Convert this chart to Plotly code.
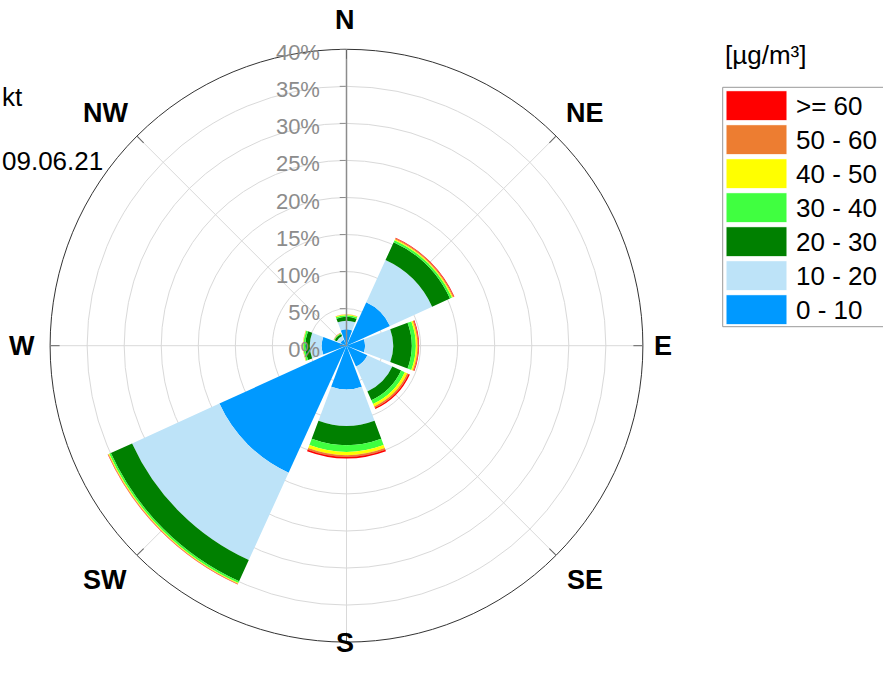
import plotly.graph_objects as go

# ---------------- data ----------------
directions = ["N", "NE", "E", "SE", "S", "SW", "W", "NW"]
dir_angles = [0, 45, 90, 135, 180, 225, 270, 315]

# frequency share (%) per concentration class and direction (stacked from centre outwards)
c_0_10 = [2.2, 6.45, 2.5, 3.1, 5.9, 18.85, 3.35, 0.9]
c_10_20 = [1.17, 6.25, 3.8, 3.7, 4.9, 12.95, 1.6, 0.55]
c_20_30 = [0.53, 2.65, 2.5, 1.3, 2.6, 3.15, 0.6, 0.3]
c_30_40 = [0.2, 0.3, 0.54, 0.55, 0.9, 0.25, 0.25, 0.1]
c_40_50 = [0.1, 0.15, 0.21, 0.35, 0.45, 0.1, 0.05, 0.03]
c_50_60 = [0.03, 0.13, 0.14, 0.2, 0.23, 0.08, 0.02, 0.02]
c_60 = [0.02, 0.07, 0.09, 0.2, 0.22, 0.04, 0.01, 0.01]

class_labels = ["0 - 10", "10 - 20", "20 - 30", "30 - 40", "40 - 50", "50 - 60", ">= 60"]
class_values = [c_0_10, c_10_20, c_20_30, c_30_40, c_40_50, c_50_60, c_60]
class_colors = ["#0099FF", "#BDE3F8", "#008000", "#40FF40", "#FFFF00", "#ED7D31", "#FF0000"]

radial_ticks = [0, 5, 10, 15, 20, 25, 30, 35, 40]
unit_label = "[µg/m³]"
side_texts = ["kt", "09.06.21"]

# ---------------- geometry helpers ----------------
W, H = 883, 684
FONT = "Liberation Sans, Arial, sans-serif"


def px(x):
    return x / W


def py(y):
    return 1 - y / H


CX, CY, R = 346.5, 345.7, 296.4   # centre and outer radius in pixels

fig = go.Figure()
for lab, vals, col in zip(class_labels, class_values, class_colors):
    fig.add_trace(go.Barpolar(
        r=vals, theta=dir_angles, width=[41] * len(vals), name=lab,
        marker=dict(color=col, line=dict(width=0)), showlegend=False,
    ))

fig.update_layout(
    width=W, height=H,
    margin=dict(l=0, r=0, t=0, b=0),
    paper_bgcolor="white",
    font=dict(family=FONT, color="black"),
    showlegend=False,
    polar=dict(
        domain=dict(x=[px(CX - R), px(CX + R)], y=[py(CY + R), py(CY - R)]),
        bgcolor="white",
        hole=0,
        radialaxis=dict(
            range=[0, 40], angle=90, side="counterclockwise",
            tickvals=radial_ticks, ticktext=[f"{v}%" for v in radial_ticks],
            tickfont=dict(size=22, color="#8c8c8c", family=FONT),
            ticks="outside", ticklen=6, tickcolor="#8c8c8c",
            showline=True, linecolor="#8c8c8c", linewidth=1.5,
            gridcolor="#d9d9d9", gridwidth=1,
            layer="above traces",
        ),
        angularaxis=dict(
            rotation=90, direction="clockwise",
            tickvals=dir_angles, showticklabels=False,
            ticks="inside", ticklen=9, tickcolor="#666666",
            showline=True, linecolor="#333333", linewidth=1,
            gridcolor="#d9d9d9", gridwidth=1,
        ),
    ),
)

shapes = []
annotations = []

# direction labels (pixel positions)
dir_label_pos = [(345, 20), (585, 113), (663, 346), (585, 580),
                 (345, 643), (105, 580), (22, 346), (105, 113)]
for lab, (x, y) in zip(directions, dir_label_pos):
    annotations.append(dict(xref="paper", yref="paper", x=px(x), y=py(y),
                            xanchor="center", yanchor="middle", text=lab, showarrow=False,
                            font=dict(size=27, color="black", family=FONT, weight="bold")))

# ---------------- legend (drawn manually) ----------------
lx0, lx1 = 726, 787
top0, pitch, sh = 90.7, 34, 30
shapes.append(dict(type="rect", xref="paper", yref="paper",
                   x0=px(722.7), x1=1.02, y0=py(326.7), y1=py(87.3),
                   line=dict(color="#999999", width=1), fillcolor="white", layer="below"))
for i, (lab, col) in enumerate(zip(class_labels[::-1], class_colors[::-1])):
    t = top0 + i * pitch
    shapes.append(dict(type="rect", xref="paper", yref="paper",
                       x0=px(lx0), x1=px(lx1), y0=py(t + sh), y1=py(t),
                       line=dict(color="white", width=1), fillcolor=col))
    annotations.append(dict(xref="paper", yref="paper", x=px(794), y=py(t + sh / 2),
                            xanchor="left", yanchor="middle", text=lab, showarrow=False,
                            font=dict(size=26, color="black", family=FONT)))
annotations.append(dict(xref="paper", yref="paper", x=px(723), y=py(55),
                        xanchor="left", yanchor="middle", text=unit_label, showarrow=False,
                        font=dict(size=26, color="black", family=FONT)))

# partially visible side texts on the left
annotations.append(dict(xref="paper", yref="paper", x=px(0), y=py(97),
                        xanchor="left", yanchor="middle", text=side_texts[0], showarrow=False,
                        font=dict(size=26, color="black", family=FONT)))
annotations.append(dict(xref="paper", yref="paper", x=px(0), y=py(161),
                        xanchor="left", yanchor="middle", text=side_texts[1], showarrow=False,
                        font=dict(size=26, color="black", family=FONT)))

fig.update_layout(shapes=shapes, annotations=annotations)
fig.write_html("out.html",
               config={"displayModeBar": False},
               post_script="document.body.style.margin='0px';document.body.style.overflow='hidden';")
